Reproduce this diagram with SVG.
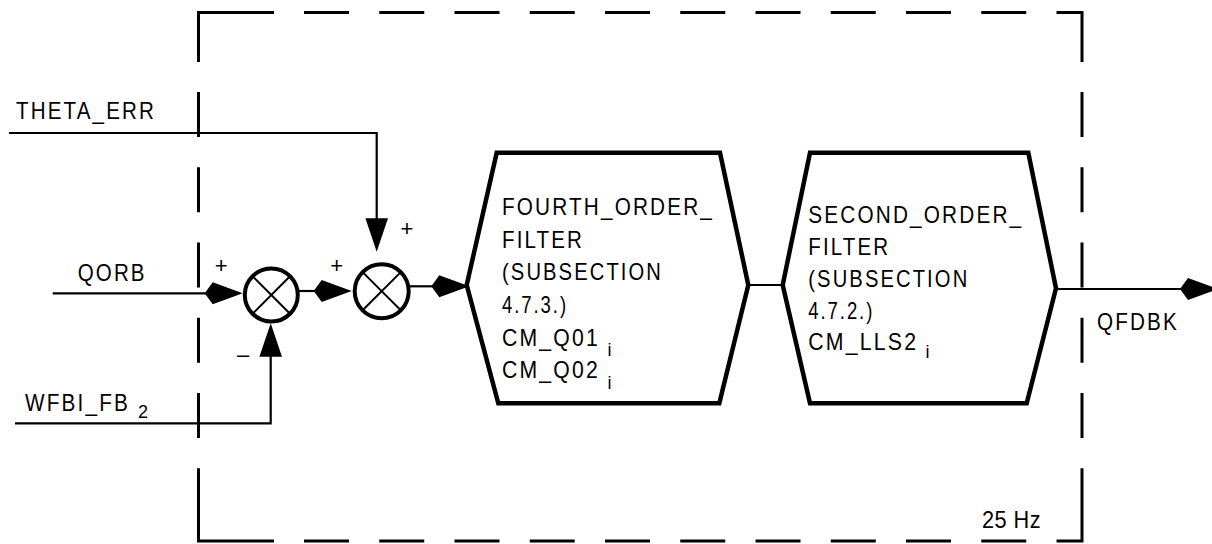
<svg xmlns="http://www.w3.org/2000/svg" width="1212" height="544" viewBox="0 0 1212 544">
<style>
.t{font-family:"Liberation Sans",Arial,sans-serif;font-size:24px;letter-spacing:2.5px;fill:#000}
.sub{font-family:"Liberation Sans",Arial,sans-serif;font-size:18px;fill:#000}
.sg{font-family:"Liberation Sans",Arial,sans-serif;font-size:22px;fill:#000;text-anchor:middle}
.ln{fill:none;stroke:#000;stroke-width:2.2}
.hex{fill:#fff;stroke:#000;stroke-width:4.5;stroke-linejoin:miter}
.sum{fill:#fff;stroke:#000;stroke-width:4}
.x{stroke:#000;stroke-width:2}
.dash{fill:none;stroke:#000;stroke-width:3;stroke-linejoin:miter}
.ah{fill:#000}
</style>
<defs>
<path id="kite" d="M0,0 L-30,-11 L-38,0 L-30,11 Z"/>
<path id="tri" d="M0,0 L-11.3,-33.5 L11.3,-33.5 Z"/>
</defs>
<g id="frame">
<path class="dash" d="M198.5,62 V12.5 H274 M304,12.5 H349 M379.25,12.5 H424.25 M454.5,12.5 H499.5 M529.75,12.5 H574.75 M605,12.5 H650 M680.25,12.5 H725.25 M755.5,12.5 H800.5 M830.75,12.5 H875.75 M906,12.5 H951 M981.25,12.5 H1026.25 M1056.5,12.5 H1082 V62
M198.5,92 V137 M198.5,167.25 V212.25 M198.5,242.5 V287.5 M198.5,317.75 V362.75 M198.5,393 V438
M1082,92 V137 M1082,167.25 V212.25 M1082,242.5 V287.5 M1082,317.75 V362.75 M1082,393 V438
M198.5,468.25 V541 H274 M304,541 H349 M379.25,541 H424.25 M454.5,541 H499.5 M529.75,541 H574.75 M605,541 H650 M680.25,541 H725.25 M755.5,541 H800.5 M830.75,541 H875.75 M906,541 H951 M981.25,541 H1026.25 M1056.5,541 H1082 V468.25"/>
<text class="t" x="982" y="528" style="letter-spacing:0.5px" textLength="59" lengthAdjust="spacingAndGlyphs">25 Hz</text>
</g>
<g id="connectors">
<path class="ln" d="M9,133 H376.7 V220"/>
<use href="#tri" class="ah" x="376.7" y="251.7"/>
<path class="ln" d="M52.7,293.3 H206"/>
<use href="#kite" class="ah" x="242.7" y="293.3"/>
<path class="ln" d="M15,423.3 H270.7 V352"/>
<use href="#tri" class="ah" transform="translate(270.7,323.3) rotate(180)"/>
<path class="ln" d="M298,291 H316"/>
<use href="#kite" class="ah" x="351.7" y="291"/>
<path class="ln" d="M409,286.3 H433"/>
<use href="#kite" class="ah" x="469.3" y="286.3"/>
<path class="ln" d="M748.3,285 H782.7"/>
<path class="ln" d="M1056,289 H1182"/>
<use href="#kite" class="ah" x="1218" y="289"/>
</g>
<g id="in_theta"><text class="t" x="16" y="119" textLength="140" lengthAdjust="spacingAndGlyphs">THETA_ERR</text></g>
<g id="in_qorb"><text class="t" x="77.7" y="280.5" textLength="69" lengthAdjust="spacingAndGlyphs">QORB</text></g>
<g id="in_wfbi"><text class="t" x="25" y="411" textLength="105" lengthAdjust="spacingAndGlyphs">WFBI_FB</text><text class="sub" x="138" y="418">2</text></g>
<g id="sum1">
<circle class="sum" cx="271.3" cy="295" r="26.5"/>
<path class="x" d="M252.6,276.3 L290,313.7 M290,276.3 L252.6,313.7"/>
<text class="sg" x="221.3" y="272.5">+</text>
<text class="sg" x="243" y="362">–</text>
</g>
<g id="sum2">
<circle class="sum" cx="381.7" cy="291.2" r="27"/>
<path class="x" d="M362.6,272.1 L400.8,310.3 M400.8,272.1 L362.6,310.3"/>
<text class="sg" x="336.7" y="272.5">+</text>
<text class="sg" x="407" y="235.8">+</text>
</g>
<g id="filter4">
<polygon class="hex" points="496.7,152.7 720,152.7 748.3,285 719.3,403.3 498.3,403.3 466.7,285"/>
<text class="t" x="502" y="214.8" textLength="212" lengthAdjust="spacingAndGlyphs">FOURTH_ORDER_</text>
<text class="t" x="502" y="247.5" textLength="82" lengthAdjust="spacingAndGlyphs">FILTER</text>
<text class="t" x="502" y="280.2" textLength="161" lengthAdjust="spacingAndGlyphs">(SUBSECTION</text>
<text class="t" x="502" y="312.9" textLength="66" lengthAdjust="spacingAndGlyphs">4.7.3.)</text>
<text class="t" x="502" y="345.6" textLength="98" lengthAdjust="spacingAndGlyphs">CM_Q01</text>
<text class="sub" x="607.5" y="356">i</text>
<text class="t" x="502" y="378.3" textLength="98" lengthAdjust="spacingAndGlyphs">CM_Q02</text>
<text class="sub" x="607.5" y="388.5">i</text>
</g>
<g id="filter2">
<polygon class="hex" points="810,152.7 1028.3,152.7 1056,288.3 1026.7,403.3 810,403.3 782.7,285"/>
<text class="t" x="808.3" y="223.3" textLength="215" lengthAdjust="spacingAndGlyphs">SECOND_ORDER_</text>
<text class="t" x="808.3" y="255.2" textLength="82" lengthAdjust="spacingAndGlyphs">FILTER</text>
<text class="t" x="808.3" y="286.7" textLength="161" lengthAdjust="spacingAndGlyphs">(SUBSECTION</text>
<text class="t" x="808.3" y="318.5" textLength="66" lengthAdjust="spacingAndGlyphs">4.7.2.)</text>
<text class="t" x="808.3" y="349.5" textLength="110" lengthAdjust="spacingAndGlyphs">CM_LLS2</text>
<text class="sub" x="925.5" y="358.3">i</text>
</g>
<g id="out_qfdbk"><text class="t" x="1097" y="330" textLength="82" lengthAdjust="spacingAndGlyphs">QFDBK</text></g>
</svg>
